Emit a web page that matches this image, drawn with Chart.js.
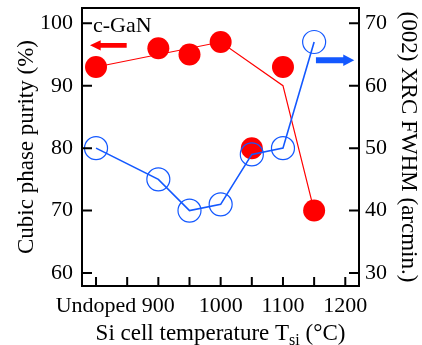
<!DOCTYPE html>
<html>
<head>
<meta charset="utf-8">
<script src="https://cdn.jsdelivr.net/npm/chart.js@4.4.1/dist/chart.umd.min.js"></script>
<style>
  html, body { margin: 0; padding: 0; background: #fff; }
  #wrap { width: 422px; height: 345px; }
</style>
</head>
<body>
<div id="wrap"><canvas id="chart" width="422" height="345"></canvas></div>
<script>
(function () {
    'use strict';

    // Si cell temperature (800 = undoped sample)
    var temps = [800, 900, 950, 1000, 1050, 1100, 1150];
    // Cubic phase purity (%), left axis
    var purity = [93, 96, 95, 97, 80, 93, 70];
    // (002) XRC FWHM (arcmin.), right axis
    var fwhm = [50, 45, 40, 41, 49, 50, 67];
    // red guide line drawn near the purity points
    var guideTemps = [800, 1000, 1100, 1150];
    var guidePurity = [93, 97, 90, 70];

    var xTickValues = [800, 900, 1000, 1100, 1200];
    var xTickLabels = ['Undoped', '900', '1000', '1100', '1200'];

    var RED = '#ff0000';
    var BLUE = '#1358ff';
    var FONT = 'Liberation Serif, serif';

    function pts(xs, ys) {
        return xs.map(function (x, i) { return { x: x, y: ys[i] }; });
    }

    function fitY(w) {
        return function (scale) {
            scale.width = w;
            scale.paddingTop = 0;
            scale.paddingBottom = 0;
        };
    }

    // inward tick marks, top frame, arrows, label and x title
    var decorations = {
        id: 'decorations',
        afterDraw: function (chart) {
            var ctx = chart.ctx;
            var area = chart.chartArea;
            var sx = chart.scales.x, sy = chart.scales.y, sy1 = chart.scales.y1;

            ctx.save();
            ctx.strokeStyle = '#000';
            ctx.lineWidth = 2;
            ctx.beginPath();
            ctx.moveTo(area.left, area.top);
            ctx.lineTo(area.right, area.top);
            sx.ticks.forEach(function (t) {
                var px = sx.getPixelForValue(t.value);
                ctx.moveTo(px, area.bottom);
                ctx.lineTo(px, area.bottom - 9);
            });
            sy.ticks.forEach(function (t) {
                var py = sy.getPixelForValue(t.value);
                ctx.moveTo(area.left, py);
                ctx.lineTo(area.left + 10, py);
            });
            sy1.ticks.forEach(function (t) {
                var py = sy1.getPixelForValue(t.value);
                ctx.moveTo(area.right, py);
                ctx.lineTo(area.right - 10, py);
            });
            ctx.stroke();

            // arrows
            function arrow(x0, x1, py, color, half, headHalf, headLen) {
                var a = sx.getPixelForValue(x0);
                var b = sx.getPixelForValue(x1);
                var dir = b > a ? 1 : -1;
                var neck = b - dir * headLen;
                ctx.fillStyle = color;
                ctx.beginPath();
                ctx.moveTo(a, py - half);
                ctx.lineTo(neck, py - half);
                ctx.lineTo(neck, py - headHalf);
                ctx.lineTo(b, py);
                ctx.lineTo(neck, py + headHalf);
                ctx.lineTo(neck, py + half);
                ctx.lineTo(a, py + half);
                ctx.closePath();
                ctx.fill();
            }
            arrow(849.2, 790.3, sy.getPixelForValue(96.47), RED, 2.4, 5.2, 10.7);
            arrow(1152.9, 1214.4, sy1.getPixelForValue(64.07), BLUE, 3, 5.8, 11);

            ctx.fillStyle = '#000';
            ctx.font = '22px ' + FONT;
            ctx.textBaseline = 'alphabetic';
            ctx.textAlign = 'left';
            ctx.fillText('c-GaN', sx.getPixelForValue(795.1), sy.getPixelForValue(98.65));

            // x axis title with subscript
            var main = 'Si cell temperature T';
            var sub = 'si';
            var tail = ' (\u00b0C)';
            ctx.font = '23px ' + FONT;
            var wMain = ctx.measureText(main).width;
            var wTail = ctx.measureText(tail).width;
            ctx.font = '16px ' + FONT;
            var wSub = ctx.measureText(sub).width;
            var total = wMain + wSub + wTail;
            var cx = (area.left + area.right) / 2;
            var x0 = cx - total / 2;
            var base = 339.5;
            ctx.font = '23px ' + FONT;
            ctx.fillText(main, x0, base);
            ctx.font = '16px ' + FONT;
            ctx.fillText(sub, x0 + wMain, base + 5);
            ctx.font = '23px ' + FONT;
            ctx.fillText(tail, x0 + wMain + wSub, base);
            ctx.restore();
        }
    };

    function draw() {
        var tickFont = { family: FONT, size: 22 };
        var titleFont = { family: FONT, size: 23 };

        new Chart(document.getElementById('chart'), {
            type: 'line',
            data: {
                datasets: [
                    {
                        label: 'FWHM',
                        data: pts(temps, fwhm),
                        yAxisID: 'y1',
                        borderColor: BLUE,
                        borderWidth: 1.6,
                        pointRadius: 11.5,
                        pointBackgroundColor: 'rgba(0,0,0,0)',
                        pointBorderColor: BLUE,
                        pointBorderWidth: 1.2,
                        fill: false,
                        tension: 0
                    },
                    {
                        label: 'guide',
                        data: pts(guideTemps, guidePurity),
                        yAxisID: 'y',
                        borderColor: RED,
                        borderWidth: 1.2,
                        pointRadius: 0,
                        fill: false,
                        tension: 0
                    },
                    {
                        label: 'Cubic purity',
                        data: pts(temps, purity),
                        yAxisID: 'y',
                        showLine: false,
                        pointRadius: 11,
                        pointBackgroundColor: RED,
                        pointBorderColor: RED,
                        pointBorderWidth: 0
                    }
                ]
            },
            options: {
                responsive: false,
                animation: false,
                events: [],
                layout: { autoPadding: false, padding: { top: 8, left: 0, right: 0, bottom: 0 } },
                plugins: {
                    legend: { display: false },
                    tooltip: { enabled: false }
                },
                scales: {
                    x: {
                        type: 'linear',
                        position: 'bottom',
                        min: 777.5,
                        max: 1222,
                        afterFit: function (scale) {
                            scale.height = 59;
                            scale.paddingLeft = 0;
                            scale.paddingRight = 0;
                        },
                        grid: { display: false, drawTicks: false },
                        border: { display: true, color: '#000', width: 2 },
                        ticks: {
                            stepSize: 50,
                            includeBounds: false,
                            autoSkip: false,
                            maxRotation: 0,
                            padding: 7,
                            color: '#000',
                            font: tickFont,
                            callback: function (value) {
                                var i = xTickValues.indexOf(value);
                                return i >= 0 ? xTickLabels[i] : '';
                            }
                        }
                    },
                    y: {
                        position: 'left',
                        min: 57.92,
                        max: 102.45,
                        afterFit: fitY(82),
                        grid: { display: false, drawTicks: false },
                        border: { display: true, color: '#000', width: 2 },
                        ticks: {
                            stepSize: 10,
                            includeBounds: false,
                            padding: 9,
                            color: '#000',
                            font: tickFont
                        },
                        title: {
                            display: true,
                            text: 'Cubic phase purity (%)',
                            color: '#000',
                            font: titleFont,
                            padding: { top: 13, bottom: 0 }
                        }
                    },
                    y1: {
                        position: 'right',
                        min: 27.92,
                        max: 72.45,
                        afterFit: fitY(63),
                        grid: { display: false, drawTicks: false },
                        border: { display: true, color: '#000', width: 2 },
                        ticks: {
                            stepSize: 10,
                            includeBounds: false,
                            padding: 6,
                            color: '#000',
                            font: tickFont
                        },
                        title: {
                            display: true,
                            text: '(002) XRC FWHM (arcmin.)',
                            color: '#000',
                            font: titleFont,
                            padding: { top: 0, bottom: 0 }
                        }
                    }
                }
            },
            plugins: [decorations]
        });
    }

    if (document.fonts && document.fonts.load) {
        document.fonts.load('22px Liberation Serif').then(draw, draw);
    } else {
        draw();
    }
})();
</script>
</body>
</html>
